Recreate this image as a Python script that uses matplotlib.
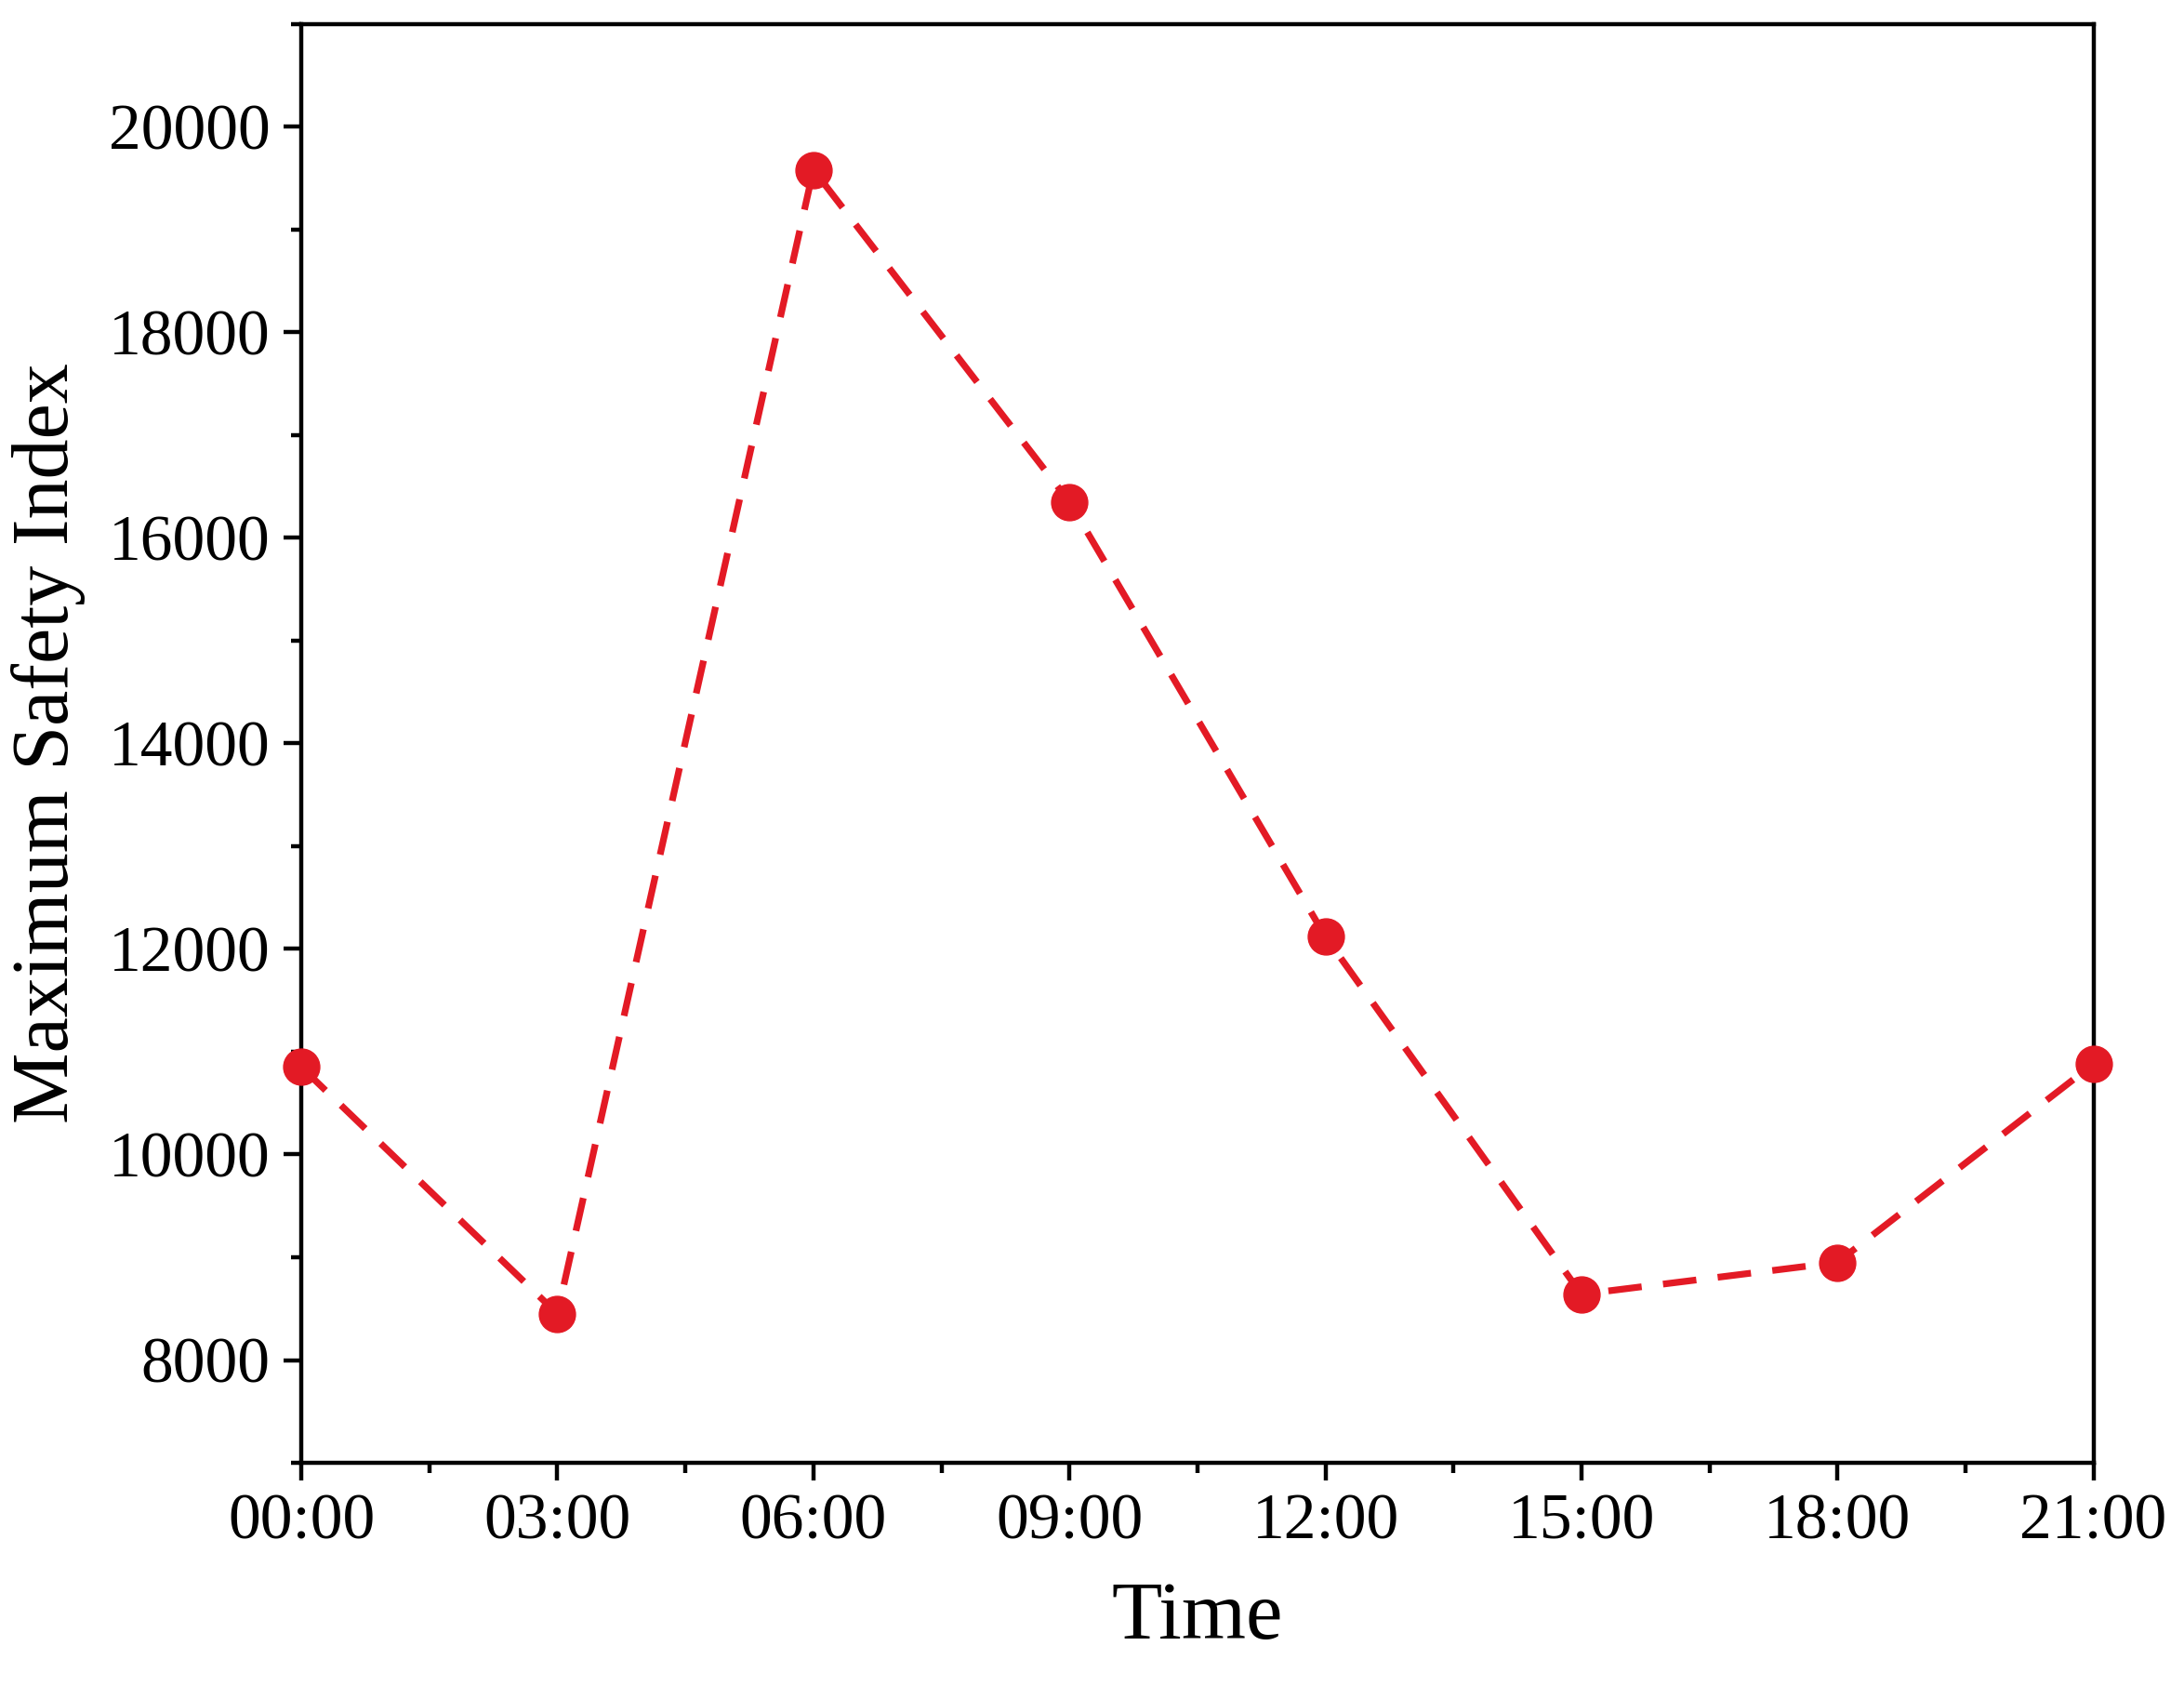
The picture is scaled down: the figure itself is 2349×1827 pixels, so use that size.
import matplotlib
matplotlib.use("Agg")
import matplotlib.pyplot as plt
from matplotlib.ticker import MultipleLocator

times = [0, 3, 6, 9, 12, 15, 18, 21]
tick_labels = ["00:00", "03:00", "06:00", "09:00", "12:00", "15:00", "18:00", "21:00"]
values = [10850, 8450, 19580, 16350, 12120, 8640, 8950, 10880]

plt.rcParams['font.family'] = ['Liberation Serif', 'DejaVu Serif']
fig = plt.figure(figsize=(23.49, 18.27), dpi=100)
ax = fig.add_axes([0.138, 0.139, 0.8205, 0.847])
ax.plot(times, values, color='#e31a25', linestyle=(0, (5, 3.2)), linewidth=5.2,
        marker='o', markersize=28, clip_on=False, zorder=3)
ax.set_xlim(0, 21)
ax.set_ylim(7000, 21000)
ax.set_xticks(times)
ax.set_xticklabels(tick_labels)
ax.xaxis.set_minor_locator(MultipleLocator(1.5))
ax.yaxis.set_minor_locator(MultipleLocator(1000))
ax.set_yticks(range(8000, 20001, 2000))
for s in ax.spines.values():
    s.set_linewidth(3.2)
ax.tick_params(which='major', direction='out', length=14, width=3.2, labelsize=50, pad=10)
ax.tick_params(which='minor', direction='out', length=8, width=3.2)
ax.set_xlabel("Time", fontsize=64, labelpad=22)
ax.set_ylabel("Maximum Safety Index", fontsize=62, labelpad=18)
fig.savefig("out.png", dpi=100)
